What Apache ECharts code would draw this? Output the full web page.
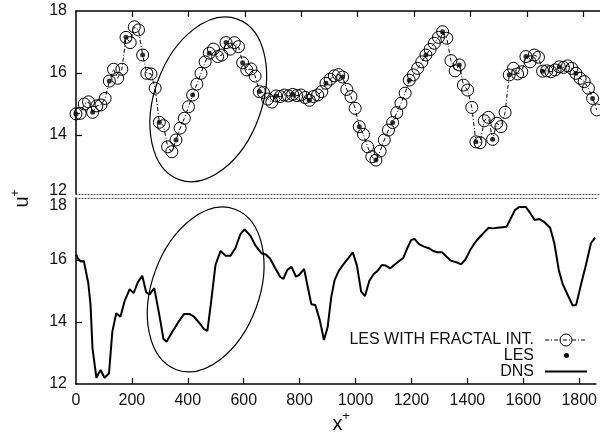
<!DOCTYPE html>
<html><head><meta charset="utf-8">
<script src="https://cdn.jsdelivr.net/npm/echarts@6/dist/echarts.min.js"></script>
<style>html,body{margin:0;padding:0;background:#fff}#c{width:600px;height:437px}</style>
</head><body><div id="c"></div>
<script>
// LES with fractal interpolation (top panel)
const fracX = [0, 14.8, 29.6, 44.4, 59.2, 73.9, 88.7, 103.5, 118.3, 133.1,
  147.9, 162.7, 177.5, 192.3, 207.0, 221.8, 236.6, 251.4, 266.2, 281.0,
  295.8, 310.6, 325.4, 340.2, 354.9, 369.7, 384.5, 399.3, 414.1, 428.9,
  443.7, 458.5, 473.2, 488.0, 502.8, 517.6, 532.4, 547.2, 562.0, 576.8,
  591.5, 606.3, 621.1, 635.9, 650.7, 665.5, 680.3, 695.1, 709.8, 724.6,
  739.4, 754.2, 769.0, 783.8, 798.6, 813.4, 828.1, 842.9, 857.7, 872.5,
  887.3, 902.1, 916.9, 931.7, 946.4, 961.2, 976.0, 990.8, 1005.6, 1020.4,
  1035.2, 1050.0, 1064.7, 1079.5, 1094.3, 1109.1, 1123.9, 1138.7, 1153.5, 1168.3,
  1183.0, 1197.8, 1212.6, 1227.4, 1242.2, 1257.0, 1271.8, 1286.6, 1301.3, 1316.1,
  1330.9, 1345.7, 1360.5, 1375.3, 1390.1, 1404.9, 1419.6, 1434.4, 1449.2, 1464.0,
  1478.8, 1493.6, 1508.4, 1523.2, 1537.9, 1552.7, 1567.5, 1582.3, 1597.1, 1611.9,
  1626.7, 1641.5, 1656.2, 1671.0, 1685.8, 1700.6, 1715.4, 1730.2, 1745.0, 1759.8,
  1774.5, 1789.3, 1804.1, 1818.9, 1833.7, 1848.5];
const fracY = [14.68, 14.70, 15.00, 15.07, 14.73, 14.94, 14.97, 15.18, 15.74, 16.12,
  15.83, 16.12, 17.15, 16.98, 17.49, 17.39, 16.58, 15.99, 15.97, 15.51,
  14.41, 14.30, 13.62, 13.46, 13.84, 14.22, 14.54, 14.91, 15.29, 15.64,
  15.99, 16.36, 16.64, 16.77, 16.53, 16.58, 16.98, 16.77, 16.98, 16.85,
  16.33, 16.10, 16.13, 15.90, 15.40, 15.37, 15.16, 15.06, 15.26, 15.24,
  15.29, 15.26, 15.31, 15.27, 15.29, 15.21, 15.12, 15.24, 15.29, 15.40,
  15.67, 15.80, 15.91, 15.95, 15.87, 15.47, 15.24, 14.86, 14.27, 14.02,
  13.62, 13.30, 13.19, 13.48, 13.84, 14.16, 14.40, 14.72, 15.02, 15.35,
  15.77, 15.94, 16.15, 16.36, 16.58, 16.76, 16.96, 17.15, 17.33, 17.12,
  16.40, 16.07, 16.26, 15.61, 15.45, 14.89, 13.78, 13.75, 14.46, 14.57,
  13.86, 14.38, 14.27, 14.73, 15.94, 16.15, 15.97, 16.04, 16.53, 16.36,
  16.58, 16.51, 16.06, 16.07, 16.04, 16.10, 16.20, 16.18, 16.23, 16.15,
  15.99, 15.83, 15.72, 15.51, 15.18, 14.81];
// LES (top panel dots)
const lesX = [0, 59.2, 118.3, 177.5, 236.6, 295.8, 354.9, 414.1, 473.2, 532.4,
  591.5, 650.7, 709.8, 769.0, 828.1, 887.3, 946.4, 1005.6, 1064.7, 1123.9,
  1183.0, 1242.2, 1301.3, 1360.5, 1419.6, 1478.8, 1537.9, 1597.1, 1656.2, 1715.4,
  1774.5, 1833.7];
const lesY = [14.68, 14.73, 15.74, 17.15, 16.58, 14.41, 13.84, 15.29, 16.64, 16.98,
  16.33, 15.40, 15.26, 15.31, 15.12, 15.67, 15.87, 14.27, 13.19, 14.40,
  15.77, 16.58, 17.33, 16.26, 13.78, 13.86, 15.94, 16.53, 16.06, 16.20,
  15.99, 15.18];
// DNS (bottom panel)
const dnsX = [0, 8, 17, 28, 44, 52, 59, 73, 88, 102, 118, 130, 144, 159, 174, 192, 206, 221, 237, 251,
  263, 280, 298, 313, 324, 345, 367, 387, 405, 422, 442, 458, 470, 482, 499, 517, 535, 553, 570, 588,
  603, 624, 641, 663, 679, 694, 712, 730, 742, 756, 771, 787, 798, 816, 830, 842, 856, 872, 887, 900,
  913, 925, 940, 955, 975, 990, 1005, 1020, 1034, 1049, 1065, 1079, 1094, 1108, 1124, 1138, 1156, 1171, 1185, 1199,
  1211, 1227, 1245, 1262, 1278, 1292, 1309, 1325, 1341, 1360, 1377, 1392, 1410, 1428, 1445, 1460, 1476, 1491, 1508, 1526,
  1540, 1554, 1570, 1585, 1609, 1625, 1641, 1658, 1676, 1696, 1711, 1727, 1741, 1759, 1777, 1789, 1806, 1824, 1842, 1857];
const dnsY = [16.18, 16.03, 15.95, 15.97, 15.25, 14.55, 13.15, 12.20, 12.45, 12.20, 12.34, 13.69, 14.28, 14.17, 14.68, 15.06, 14.93, 15.28, 15.49, 14.96,
  14.89, 15.09, 14.23, 13.45, 13.36, 13.69, 14.01, 14.26, 14.26, 14.17, 13.96, 13.77, 13.71, 14.55, 15.84, 16.29, 16.14, 16.14, 16.38, 16.83,
  16.99, 16.78, 16.48, 16.22, 16.18, 16.05, 15.75, 15.46, 15.39, 15.68, 15.78, 15.46, 15.52, 15.71, 15.09, 14.57, 14.55, 14.06, 13.42, 13.83,
  14.80, 15.35, 15.65, 15.84, 16.07, 16.25, 15.82, 14.98, 14.84, 15.32, 15.55, 15.65, 15.84, 15.82, 15.73, 15.84, 15.97, 16.07, 16.38, 16.65,
  16.68, 16.51, 16.43, 16.38, 16.29, 16.25, 16.25, 16.11, 15.98, 15.93, 15.86, 16.00, 16.32, 16.57, 16.75, 16.89, 17.04, 17.02, 17.04, 17.06,
  17.07, 17.32, 17.61, 17.71, 17.71, 17.51, 17.29, 17.32, 17.22, 17.04, 16.54, 15.68, 15.22, 14.87, 14.53, 14.55, 15.19, 15.84, 16.54, 16.72];

const xTickLabels = [0, 200, 400, 600, 800, 1000, 1200, 1400, 1600, 1800];
const xTickMarks = [200, 400, 600, 800, 1000, 1200, 1400, 1600, 1800];
const yTopLabels = [12.1, 14, 16, 18];
const yTopTicks = [14, 16];
const yBotLabels = [12, 14, 16, 18];
const yBotTicks = [14, 16];
const legendNames = ['LES WITH FRACTAL INT.', 'LES', 'DNS'];

const FONT = 'Liberation Sans';
const BLACK = '#000';
const pairs = (xs, ys) => xs.map((x, i) => [x, ys[i]]);

const chart = echarts.init(document.getElementById('c'), null, {renderer: 'canvas'});

const xBase = (grid) => ({
  gridIndex: grid, type: 'value', min: 0, max: 1860,
  splitLine: {show: false}
});
const solidLine = {show: true, onZero: false, lineStyle: {color: BLACK, width: 1.5}};
const dottedLine = {show: true, onZero: false, lineStyle: {color: '#444', width: 1, type: [1, 2]}};

chart.setOption({
  animation: false,
  backgroundColor: '#fff',
  grid: [
    {left: 76, right: 0, top: 11, height: 182.9},
    {left: 76, right: 0, top: 198, height: 186}
  ],
  xAxis: [
    Object.assign(xBase(0), {position: 'top', axisLine: solidLine,
      axisTick: {show: true, inside: true, length: 6, customValues: xTickMarks, lineStyle: {color: BLACK, width: 1.2}},
      axisLabel: {show: false}}),
    Object.assign(xBase(0), {position: 'bottom', axisLine: dottedLine, axisTick: {show: false}, axisLabel: {show: false}}),
    Object.assign(xBase(1), {position: 'bottom', axisLine: solidLine,
      axisTick: {show: true, inside: true, length: 6, customValues: xTickMarks, lineStyle: {color: BLACK, width: 1.2}},
      axisLabel: {show: true, customValues: xTickLabels, margin: 9, fontSize: 16, fontFamily: FONT, color: '#111',
        formatter: v => String(v)}}),
    Object.assign(xBase(1), {position: 'top', axisLine: dottedLine, axisTick: {show: false}, axisLabel: {show: false}})
  ],
  yAxis: [
    {gridIndex: 0, type: 'value', min: 12.1, max: 18, splitLine: {show: false}, axisLine: solidLine,
      axisTick: {show: true, inside: true, length: 6, customValues: yTopTicks, lineStyle: {color: BLACK, width: 1.2}},
      axisLabel: {show: true, customValues: yTopLabels, margin: 9, fontSize: 16, fontFamily: FONT, color: '#111',
        formatter: v => v < 13 ? '{lo|12}' : String(Math.round(v)),
        rich: {lo: {fontSize: 16, fontFamily: FONT, color: '#111', padding: [0, 0, 7, 0]}}}},
    {gridIndex: 1, type: 'value', min: 12, max: 18, splitLine: {show: false}, axisLine: solidLine,
      axisTick: {show: true, inside: true, length: 6, customValues: yBotTicks, lineStyle: {color: BLACK, width: 1.2}},
      axisLabel: {show: true, customValues: yBotLabels, margin: 9, fontSize: 16, fontFamily: FONT, color: '#111',
        formatter: v => v > 17.5 ? '{hi|18}' : String(Math.round(v)),
        rich: {hi: {fontSize: 16, fontFamily: FONT, color: '#111', padding: [15, 0, 0, 0]}}}}
  ],
  series: [
    {name: legendNames[0], type: 'line', xAxisIndex: 0, yAxisIndex: 0, data: pairs(fracX, fracY),
      symbol: 'circle', symbolSize: 12, showSymbol: true, showAllSymbol: true,
      itemStyle: {color: 'rgba(0,0,0,0)', borderColor: BLACK, borderWidth: 1},
      lineStyle: {color: BLACK, width: 1, type: [4, 2, 1, 2]}, z: 3},
    {name: legendNames[1], type: 'scatter', xAxisIndex: 0, yAxisIndex: 0, data: pairs(lesX, lesY),
      symbol: 'circle', symbolSize: 5, itemStyle: {color: BLACK}, z: 4},
    {name: legendNames[2], type: 'line', xAxisIndex: 2, yAxisIndex: 1, data: pairs(dnsX, dnsY),
      symbol: 'none', lineStyle: {color: BLACK, width: 2}, z: 3}
  ]
});

// annotation ellipses anchored in data coordinates
const eTop = chart.convertToPixel({xAxisIndex: 0, yAxisIndex: 0}, [469.5, 15.15]);
const eBot = chart.convertToPixel({xAxisIndex: 2, yAxisIndex: 1}, [463.8, 15.05]);
const ell = (c) => ({type: 'ellipse', x: c[0], y: c[1], rotation: -20 * Math.PI / 180,
  shape: {cx: 0, cy: 0, rx: 53.7, ry: 85.4}, style: {fill: 'none', stroke: BLACK, lineWidth: 1.2}, z: 10});
const txt = (s, x, y, size, align, rot) => ({type: 'text', x: x, y: y, rotation: rot || 0, z: 10,
  style: {text: s, fontSize: size, fontFamily: FONT, fill: '#111', align: align, textAlign: align,
    verticalAlign: 'middle', textVerticalAlign: 'middle'}});

chart.setOption({
  graphic: [
    ell(eTop), ell(eBot),
    // legend
    txt(legendNames[0], 534, 340, 16, 'right'),
    txt(legendNames[1], 534, 355.5, 16, 'right'),
    txt(legendNames[2], 534, 371.5, 16, 'right'),
    {type: 'line', z: 10, shape: {x1: 545, y1: 340, x2: 587, y2: 340}, style: {stroke: BLACK, lineWidth: 1, lineDash: [4, 2, 1, 2]}},
    {type: 'circle', z: 11, shape: {cx: 566, cy: 340, r: 6}, style: {fill: 'none', stroke: BLACK, lineWidth: 1}},
    {type: 'circle', z: 11, shape: {cx: 566.5, cy: 355.5, r: 2.5}, style: {fill: BLACK}},
    {type: 'line', z: 10, shape: {x1: 545, y1: 371.5, x2: 587, y2: 371.5}, style: {stroke: BLACK, lineWidth: 2}},
    // axis names
    txt('x', 337.5, 424, 20, 'center'),
    txt('+', 346, 416, 13, 'center'),
    txt('u', 22, 202, 20, 'center', Math.PI / 2),
    txt('+', 15, 193, 13, 'center', Math.PI / 2)
  ]
});
</script>
</body></html>
